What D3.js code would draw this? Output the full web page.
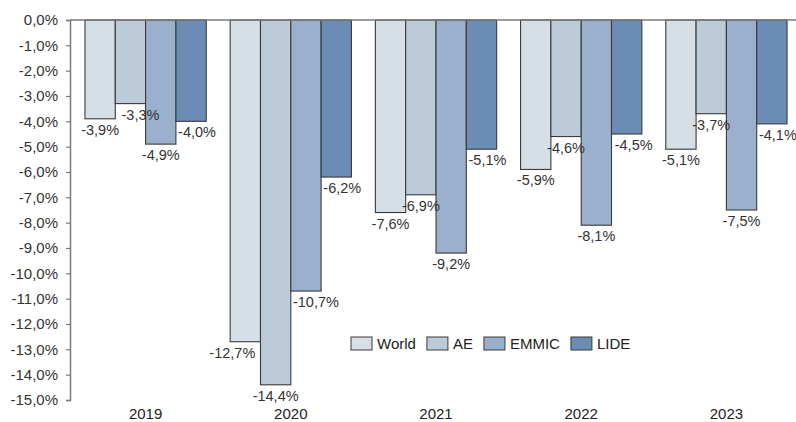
<!DOCTYPE html>
<html>
<head>
<meta charset="utf-8">
<script src="https://cdn.jsdelivr.net/npm/d3@7"></script>
<style>
  html, body { margin: 0; padding: 0; background: #fff; }
  svg { display: block; font-family: "Liberation Sans", Arial, sans-serif; }
</style>
</head>
<body>
<svg id="chart" width="796" height="422"></svg>
<script>
// ---- data ----
const years = ["2019", "2020", "2021", "2022", "2023"];
const seriesNames = ["World", "AE", "EMMIC", "LIDE"];
const world = [-3.9, -12.7, -7.6, -5.9, -5.1];
const ae    = [-3.3, -14.4, -6.9, -4.6, -3.7];
const emmic = [-4.9, -10.7, -9.2, -8.1, -7.5];
const lide  = [-4.0, -6.2, -5.1, -4.5, -4.1];
const yTicks = [0, -1, -2, -3, -4, -5, -6, -7, -8, -9, -10, -11, -12, -13, -14, -15];

// ---- layout / style ----
const colors = ["#d6dee6", "#bdcbd9", "#9ab0cc", "#6b8cb5"];
const labelShift = [
  [0, -13, 0, 0, 0],
  [10, 0, 0, 0, 0],
  [0, 10, 0, 0, 0],
  [6, 6, 6, 7, 6]
];
const values = [world, ae, emmic, lide];

const svg = d3.select("#chart");
const axisX = 70;
const x0 = d3.scaleBand().domain(years).range([73, 799]).paddingInner(0.165).paddingOuter(0.0825);
const x1 = d3.scaleBand().domain(seriesNames).range([0, x0.bandwidth()]).padding(0);
const y = d3.scaleLinear().domain([-15, 0]).range([400, 20]);

const fmt = v => (v < 0 ? "-" : "") + Math.abs(v).toFixed(1).replace(".", ",") + "%";

// bars
const groups = svg.append("g").selectAll("g")
  .data(years)
  .join("g")
  .attr("transform", d => `translate(${x0(d)},0)`);

groups.selectAll("rect")
  .data((yr, i) => seriesNames.map((s, k) => ({ s, k, v: values[k][i], i })))
  .join("rect")
  .attr("x", d => x1(d.s))
  .attr("y", d => y(0))
  .attr("width", x1.bandwidth())
  .attr("height", d => y(d.v) - y(0))
  .attr("fill", d => colors[d.k])
  .attr("stroke", "#3a3a3a")
  .attr("stroke-width", 1.1);

// zero line (top border)
svg.append("line")
  .attr("x1", axisX).attr("x2", 796)
  .attr("y1", y(0)).attr("y2", y(0))
  .attr("stroke", "#7a7a7a").attr("stroke-width", 1.5);

// y axis
const yAxis = d3.axisLeft(y).tickValues(yTicks).tickSize(4).tickPadding(8).tickFormat(fmt);
const gy = svg.append("g").attr("transform", `translate(${axisX},0)`).call(yAxis);
gy.select(".domain").attr("stroke", "#7a7a7a").attr("stroke-width", 1.5);
gy.selectAll(".tick line").attr("stroke", "#7a7a7a").attr("stroke-width", 1.2);
gy.selectAll(".tick text").attr("fill", "#333").style("font-size", "15px")
  .style("font-family", "'Liberation Sans', Arial, sans-serif");

// x axis labels (no line)
const xAxis = d3.axisBottom(x0).tickSize(0).tickPadding(0);
const gx = svg.append("g").attr("transform", `translate(0,${y(-15)})`).call(xAxis);
gx.select(".domain").remove();
gx.selectAll(".tick text").attr("fill", "#222").attr("dy", null).attr("y", 19)
  .style("font-size", "15px").style("font-family", "'Liberation Sans', Arial, sans-serif");

// value labels
groups.selectAll("text.val")
  .data((yr, i) => seriesNames.map((s, k) => ({ s, k, v: values[k][i], i })))
  .join("text")
  .attr("class", "val")
  .attr("x", d => x1(d.s) + x1.bandwidth() / 2 + labelShift[d.k][d.i])
  .attr("y", d => y(d.v) + 16)
  .attr("text-anchor", "middle")
  .attr("fill", "#333")
  .style("font-size", "14.5px")
  .text(d => fmt(d.v));

// legend
const legend = svg.append("g").attr("transform", "translate(351,337)");
let lx = 0;
seriesNames.forEach((s, k) => {
  const g = legend.append("g").attr("transform", `translate(${lx},0)`);
  g.append("rect").attr("width", 21).attr("height", 13)
    .attr("fill", colors[k]).attr("stroke", "#3a3a3a").attr("stroke-width", 1);
  const t = g.append("text").attr("x", 26).attr("y", 11.5)
    .attr("fill", "#222").style("font-size", "15px").text(s);
  lx += 26 + t.node().getComputedTextLength() + 11;
});
</script>
</body>
</html>
